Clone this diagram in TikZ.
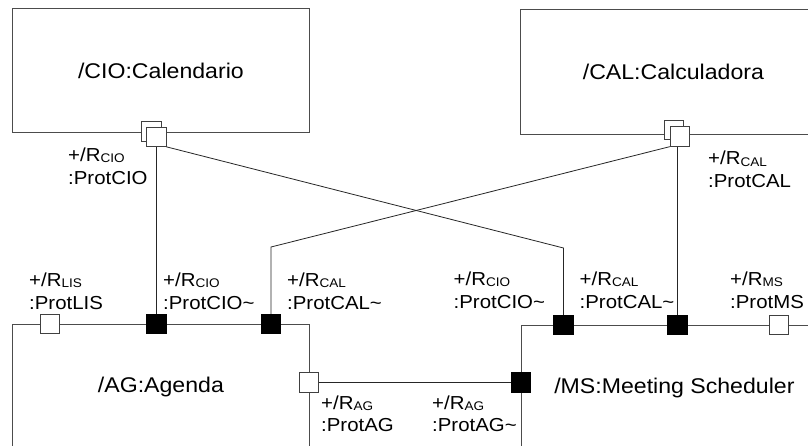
\documentclass[tikz,border=0pt]{standalone}
\usepackage{fontspec}
\setmainfont{Liberation Sans}[FakeStretch=1.085]
\newcommand\titlefont{\fontsize{21.3}{25}\selectfont}
\newcommand\lblfont{\fontsize{18.8}{23}\selectfont}
\newcommand\portsub[1]{\raisebox{-1.5pt}{\fontsize{12.5}{14}\selectfont #1}}
\begin{document}
\begin{tikzpicture}[x=1pt,y=-1pt,
  box/.style={draw=black!70, line width=0.8pt, fill=white, inner sep=0pt, font=\titlefont},
  port/.style={draw=black!75, line width=0.8pt, fill=white, minimum size=19.5pt, inner sep=0pt},
  bport/.style={port, fill=black, draw=black},
  wire/.style={draw=black!85, line width=0.8pt},
  lbl/.style={anchor=base west, inner sep=0pt, font=\lblfont}]
\clip (0,0) rectangle (808,445);
\fill[white] (0,0) rectangle (808,445);

% parts
\node[box, minimum width=297pt, minimum height=124pt, anchor=north west] (cio) at (12,8) {/CIO:Calendario};
\node[box, minimum width=306pt, minimum height=125pt, anchor=north west] (cal) at (520,9) {/CAL:Calculadora};
\node[box, minimum width=297pt, minimum height=126pt, anchor=north west] (ag) at (12,324) {/AG:Agenda};
\node[box, minimum width=306pt, minimum height=126pt, anchor=north west] (ms) at (521,325) {/MS:Meeting Scheduler};

% ports
\node[port] (cioB) at (151.2,131.4) {};
\node[port] (cioF) at (156.4,136.7) {};
\node[port] (calB) at (674,130) {};
\node[port] (calF) at (680,136.5) {};
\node[port] (agLIS) at (50,324) {};
\node[bport] (agCIO) at (156.4,324) {};
\node[bport] (agCAL) at (271,324) {};
\node[port] (agAG) at (309,382.5) {};
\node[bport] (msAG) at (521,382.5) {};
\node[bport] (msCIO) at (563.5,325) {};
\node[bport] (msCAL) at (677.5,325) {};
\node[port] (msMS) at (779,325) {};

% connectors
\coordinate (bendMS) at (563.5,248);
\coordinate (bendAG) at (271,247);
\draw[wire] (cioF) -- (agCIO);
\draw[wire] (cioF.south east) -- (bendMS) -- (msCIO.north);
\draw[wire] (calF.south west) -- (bendAG) -- (agCAL.north);
\draw[wire] (calF.south -| msCAL) -- (msCAL.north);
\draw[wire] (agAG) -- (msAG);

% port labels
\node[lbl] (l1a) at (68,161) {+/R\portsub{CIO}};
\node[lbl] (l1b) at (68,184) {:ProtCIO};
\node[lbl] (l2a) at (708,164.5) {+/R\portsub{CAL}};
\node[lbl] (l2b) at (708,187.5) {:ProtCAL};
\node[lbl] (l3a) at (29,286) {+/R\portsub{LIS}};
\node[lbl] (l3b) at (29,309) {:ProtLIS};
\node[lbl] (l4a) at (163,286) {+/R\portsub{CIO}};
\node[lbl] (l4b) at (163,309) {:ProtCIO\textasciitilde};
\node[lbl] (l5a) at (287,286) {+/R\portsub{CAL}};
\node[lbl] (l5b) at (287,309) {:ProtCAL\textasciitilde};
\node[lbl] (l6a) at (453.5,285) {+/R\portsub{CIO}};
\node[lbl] (l6b) at (453.5,308) {:ProtCIO\textasciitilde};
\node[lbl] (l7a) at (579.5,285) {+/R\portsub{CAL}};
\node[lbl] (l7b) at (579.5,308) {:ProtCAL\textasciitilde};
\node[lbl] (l8a) at (730,285) {+/R\portsub{MS}};
\node[lbl] (l8b) at (730,308) {:ProtMS};
\node[lbl] (l9a) at (321,409) {+/R\portsub{AG}};
\node[lbl] (l9b) at (321,431) {:ProtAG};
\node[lbl] (l10a) at (432,409) {+/R\portsub{AG}};
\node[lbl] (l10b) at (432,431) {:ProtAG\textasciitilde};
\end{tikzpicture}
\end{document}
